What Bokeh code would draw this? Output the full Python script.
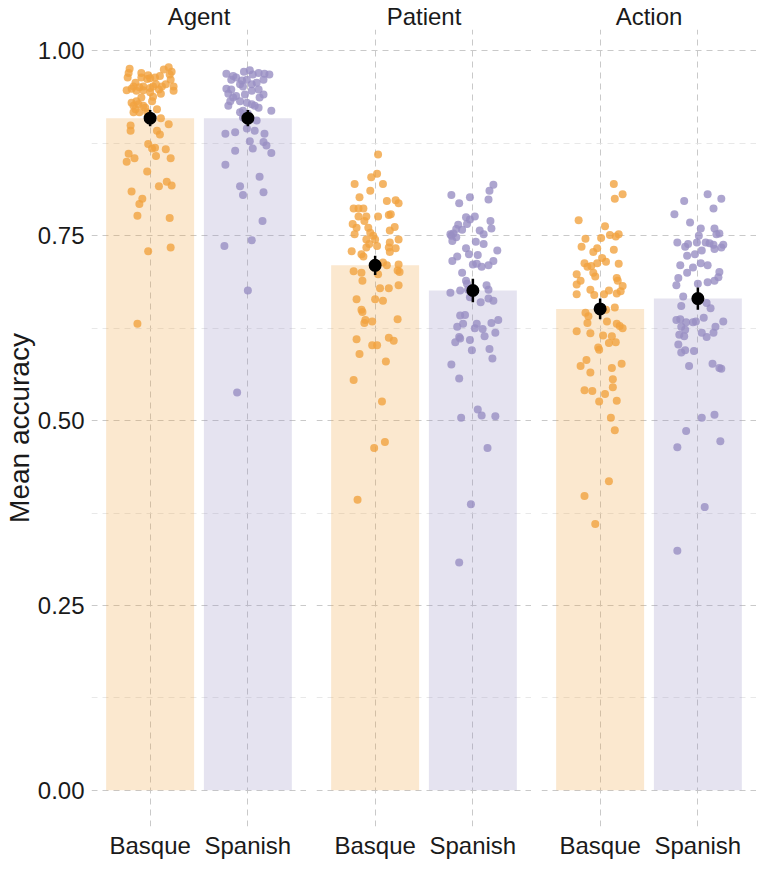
from bokeh.plotting import figure
from bokeh.layouts import row
from bokeh.models import Range1d, FixedTicker, NumeralTickFormatter
from bokeh.embed import file_html
from bokeh.resources import INLINE

conditions = ["Agent", "Patient", "Action"]
languages = ["Basque", "Spanish"]
lang_colors = ["#F1A340", "#998EC3"]

# condition means (bar heights / black dots) and standard errors
mean_basque = [0.909, 0.710, 0.651]
mean_spanish = [0.909, 0.676, 0.665]
se_basque = [0.011, 0.013, 0.014]
se_spanish = [0.011, 0.016, 0.015]

# participant accuracies and horizontal jitter (category units)
agent_basque_acc = [0.976, 0.970, 0.964, 0.970, 0.964, 0.967, 0.962, 0.963, 0.964, 0.966,
                    0.975, 0.978, 0.972, 0.968, 0.961, 0.955, 0.952, 0.957, 0.952, 0.949,
                    0.947, 0.946, 0.951, 0.952, 0.947, 0.950, 0.952, 0.955, 0.948, 0.942,
                    0.952, 0.946, 0.944, 0.938, 0.932, 0.937, 0.932, 0.930, 0.926, 0.928,
                    0.926, 0.921, 0.917, 0.917, 0.923, 0.917, 0.921, 0.909, 0.901, 0.899,
                    0.892, 0.892, 0.887, 0.874, 0.868, 0.869, 0.861, 0.855, 0.850, 0.858,
                    0.867, 0.855, 0.837, 0.823, 0.817, 0.818, 0.810, 0.800, 0.793, 0.777,
                    0.774, 0.729, 0.734, 0.631]
agent_basque_jit = [-0.21, -0.22, -0.23, -0.09, -0.09, -0.02, -0.03, 0.00, 0.05, 0.10,
                    0.14, 0.19, 0.22, 0.20, 0.21, 0.16, 0.12, -0.15, -0.17, -0.19,
                    -0.24, -0.14, -0.11, -0.07, -0.07, 0.00, 0.03, 0.06, 0.09, 0.11,
                    0.24, 0.24, 0.00, 0.03, 0.02, -0.09, -0.14, -0.19, -0.17, -0.12,
                    -0.07, -0.15, -0.17, -0.11, -0.05, -0.03, 0.07, 0.11, 0.19, -0.20,
                    -0.20, 0.07, 0.10, -0.02, 0.02, 0.05, -0.22, -0.16, -0.24, 0.06,
                    0.16, 0.21, -0.03, 0.17, 0.09, 0.22, -0.19, -0.08, -0.11, -0.13,
                    0.20, -0.02, 0.21, -0.13]

agent_spanish_acc = [0.969, 0.966, 0.961, 0.964, 0.972, 0.974, 0.968, 0.970, 0.969, 0.968,
                     0.961, 0.957, 0.961, 0.960, 0.955, 0.952, 0.955, 0.949, 0.948, 0.942,
                     0.937, 0.932, 0.926, 0.939, 0.932, 0.941, 0.946, 0.948, 0.941, 0.937,
                     0.930, 0.928, 0.926, 0.923, 0.919, 0.917, 0.919, 0.915, 0.910, 0.906,
                     0.895, 0.892, 0.888, 0.888, 0.890, 0.878, 0.877, 0.872, 0.868, 0.865,
                     0.862, 0.846, 0.830, 0.817, 0.809, 0.805, 0.770, 0.736, 0.744, 0.676,
                     0.538]
agent_spanish_jit = [-0.22, -0.15, -0.17, -0.12, -0.04, 0.02, 0.05, 0.11, 0.17, 0.22,
                     0.16, 0.09, -0.01, -0.06, -0.08, -0.05, 0.04, -0.22, -0.17, -0.20,
                     -0.15, -0.18, -0.20, -0.12, -0.08, -0.03, 0.04, 0.11, 0.16, 0.12,
                     -0.01, 0.04, 0.07, 0.11, 0.24, -0.08, -0.05, 0.00, -0.05, 0.09,
                     -0.01, 0.07, 0.17, -0.23, -0.13, 0.02, 0.16, 0.19, 0.05, -0.13,
                     0.24, -0.23, 0.12, -0.08, 0.16, -0.05, 0.15, -0.24, 0.04, 0.00,
                     -0.11]

patient_basque_acc = [0.860, 0.834, 0.829, 0.820, 0.820, 0.811, 0.802, 0.797, 0.798, 0.794,
                      0.787, 0.787, 0.787, 0.776, 0.776, 0.776, 0.778, 0.779, 0.766, 0.761,
                      0.770, 0.761, 0.762, 0.757, 0.752, 0.754, 0.750, 0.745, 0.745, 0.745,
                      0.741, 0.739, 0.736, 0.734, 0.733, 0.734, 0.729, 0.728, 0.725, 0.722,
                      0.714, 0.710, 0.711, 0.702, 0.700, 0.703, 0.701, 0.689, 0.698, 0.683,
                      0.679, 0.679, 0.664, 0.664, 0.662, 0.650, 0.647, 0.636, 0.632, 0.634,
                      0.637, 0.610, 0.602, 0.602, 0.612, 0.608, 0.590, 0.580, 0.555, 0.526,
                      0.471, 0.463, 0.393]
patient_basque_jit = [0.03, 0.02, -0.04, -0.21, 0.08, -0.05, -0.16, 0.12, 0.21, 0.24,
                      -0.22, -0.17, -0.12, -0.17, -0.09, 0.03, 0.14, 0.16, -0.23, -0.19,
                      -0.11, -0.07, 0.20, 0.15, -0.21, -0.05, -0.02, 0.00, -0.09, 0.24,
                      0.15, -0.06, 0.02, 0.14, 0.21, -0.09, -0.24, 0.15, -0.14, -0.12,
                      0.08, 0.12, 0.24, -0.22, -0.14, 0.23, 0.25, -0.13, 0.03, 0.24,
                      0.05, 0.14, -0.19, 0.00, 0.08, -0.14, -0.13, -0.10, -0.11, -0.03,
                      0.23, -0.19, -0.03, 0.02, 0.14, 0.19, -0.16, 0.11, -0.22, 0.07,
                      0.10, -0.01, -0.18]

patient_spanish_acc = [0.805, 0.794, 0.802, 0.799, 0.811, 0.819, 0.775, 0.772, 0.776, 0.766,
                       0.765, 0.759, 0.758, 0.770, 0.760, 0.752, 0.753, 0.750, 0.748, 0.743,
                       0.757, 0.752, 0.742, 0.739, 0.733, 0.725, 0.724, 0.730, 0.722, 0.716,
                       0.711, 0.712, 0.708, 0.710, 0.716, 0.700, 0.689, 0.685, 0.683, 0.673,
                       0.676, 0.677, 0.677, 0.667, 0.660, 0.665, 0.662, 0.642, 0.643, 0.631,
                       0.627, 0.631, 0.625, 0.624, 0.632, 0.636, 0.619, 0.614, 0.613, 0.611,
                       0.606, 0.609, 0.595, 0.597, 0.584, 0.576, 0.557, 0.515, 0.507, 0.504,
                       0.506, 0.463, 0.387, 0.308]
patient_spanish_jit = [-0.22, -0.14, -0.03, 0.16, 0.17, 0.21, -0.07, -0.03, 0.02, -0.06,
                       -0.15, -0.17, -0.11, 0.18, 0.19, -0.23, -0.20, -0.22, -0.17, -0.21,
                       0.07, 0.11, 0.03, 0.11, -0.07, -0.04, 0.05, 0.25, -0.16, -0.21,
                       0.00, 0.04, 0.09, 0.16, 0.21, -0.11, -0.07, -0.06, 0.14, -0.23,
                       -0.13, -0.05, 0.16, -0.03, 0.08, 0.16, 0.21, -0.13, -0.08, -0.10,
                       -0.16, 0.04, 0.02, 0.10, 0.19, 0.26, 0.23, 0.12, -0.14, -0.13,
                       -0.18, -0.03, -0.01, 0.17, 0.20, -0.22, -0.14, 0.05, 0.09, -0.12,
                       0.23, 0.15, -0.02, -0.14]

action_basque_acc = [0.820, 0.800, 0.806, 0.771, 0.763, 0.746, 0.747, 0.751, 0.749, 0.752,
                     0.735, 0.728, 0.733, 0.731, 0.720, 0.715, 0.713, 0.708, 0.709, 0.713,
                     0.712, 0.698, 0.700, 0.695, 0.689, 0.684, 0.693, 0.689, 0.682, 0.677,
                     0.670, 0.671, 0.676, 0.672, 0.675, 0.671, 0.650, 0.653, 0.646, 0.641,
                     0.632, 0.634, 0.631, 0.628, 0.625, 0.621, 0.618, 0.615, 0.614, 0.605,
                     0.606, 0.599, 0.596, 0.582, 0.574, 0.577, 0.571, 0.565, 0.556, 0.545,
                     0.541, 0.540, 0.536, 0.527, 0.526, 0.504, 0.487, 0.418, 0.398, 0.360]
action_basque_jit = [0.14, 0.15, 0.23, -0.22, 0.05, -0.15, 0.01, 0.10, 0.16, 0.19,
                     -0.19, -0.07, -0.03, 0.14, 0.02, 0.06, -0.16, -0.13, -0.09, -0.03,
                     0.19, -0.24, -0.07, -0.05, -0.20, -0.24, 0.17, 0.18, 0.23, -0.10,
                     -0.06, 0.04, 0.09, 0.17, 0.21, -0.24, 0.06, 0.15, -0.15, -0.12,
                     -0.13, 0.07, 0.17, 0.20, 0.23, -0.24, -0.10, 0.03, 0.12, 0.09,
                     0.16, -0.02, -0.01, -0.14, -0.20, 0.22, 0.12, -0.10, 0.13, 0.13,
                     -0.16, -0.08, 0.05, 0.17, -0.01, 0.11, 0.15, 0.09, -0.16, -0.05]

action_spanish_acc = [0.806, 0.800, 0.797, 0.787, 0.779, 0.768, 0.760, 0.760, 0.753, 0.752,
                      0.750, 0.741, 0.735, 0.739, 0.741, 0.741, 0.740, 0.738, 0.738, 0.734,
                      0.732, 0.730, 0.725, 0.723, 0.710, 0.707, 0.713, 0.710, 0.701, 0.700,
                      0.693, 0.694, 0.689, 0.687, 0.685, 0.683, 0.668, 0.655, 0.659, 0.652,
                      0.636, 0.637, 0.633, 0.633, 0.634, 0.639, 0.627, 0.623, 0.627, 0.634,
                      0.619, 0.619, 0.616, 0.614, 0.613, 0.603, 0.595, 0.592, 0.594, 0.574,
                      0.577, 0.571, 0.570, 0.504, 0.508, 0.486, 0.472, 0.464, 0.383, 0.324]
action_spanish_jit = [0.10, 0.24, -0.14, 0.16, -0.24, -0.08, 0.03, 0.17, 0.22, 0.19,
                      0.01, -0.21, -0.13, -0.10, -0.01, 0.08, 0.12, 0.16, 0.26, 0.24,
                      0.17, 0.04, -0.03, -0.11, -0.18, -0.05, 0.03, 0.10, 0.22, -0.11,
                      -0.20, 0.21, 0.17, 0.10, 0.00, -0.22, -0.15, -0.17, 0.09, 0.13,
                      -0.22, -0.18, -0.12, -0.05, -0.02, 0.06, -0.17, -0.13, 0.18, 0.26,
                      0.16, 0.04, -0.19, -0.14, 0.09, -0.20, -0.13, -0.17, -0.04, -0.09,
                      0.15, 0.22, 0.24, 0.04, 0.17, -0.12, 0.23, -0.21, 0.07, -0.21]

y_ticks = [0.0, 0.25, 0.50, 0.75, 1.0]
y_minor = [0.125, 0.375, 0.625, 0.875]

point_data = {
    "Agent": [(agent_basque_acc, agent_basque_jit), (agent_spanish_acc, agent_spanish_jit)],
    "Patient": [(patient_basque_acc, patient_basque_jit), (patient_spanish_acc, patient_spanish_jit)],
    "Action": [(action_basque_acc, action_basque_jit), (action_spanish_acc, action_spanish_jit)],
}

FONT = "Liberation Sans"
GRID = "#c9c9c9"
y_range = Range1d(-0.049, 1.029)
panels = []
for i, cond in enumerate(conditions):
    first = i == 0
    p = figure(frame_width=215, frame_height=797,
               x_range=Range1d(0.4, 2.6), y_range=y_range,
               output_backend="svg", toolbar_location=None,
               min_border_left=0 if first else 10, min_border_right=0,
               min_border_top=0, min_border_bottom=0, title=cond)
    p.outline_line_color = None
    p.title.align = "center"
    p.title.text_font = FONT
    p.title.text_font_size = "24px"
    p.title.text_font_style = "normal"
    p.title.text_color = "#1a1a1a"
    p.title.standoff = 0

    xt = FixedTicker(ticks=[1, 2])
    p.xaxis.ticker = xt
    p.xgrid.ticker = xt
    p.xaxis.major_label_overrides = {1: languages[0], 2: languages[1]}
    p.xaxis.axis_line_color = None
    p.xaxis.major_tick_line_color = None
    p.xaxis.minor_tick_line_color = None
    p.xaxis.major_tick_out = 0
    p.xaxis.major_tick_in = 0
    p.xaxis.minor_tick_out = 0
    p.xaxis.major_label_text_font = FONT
    p.xaxis.major_label_text_font_size = "24px"
    p.xaxis.major_label_text_color = "#1a1a1a"
    p.xaxis.major_label_standoff = 5

    yt = FixedTicker(ticks=y_ticks, minor_ticks=y_minor)
    p.yaxis.ticker = yt
    p.ygrid.ticker = yt
    p.yaxis.formatter = NumeralTickFormatter(format="0.00")
    p.yaxis.axis_line_color = None
    p.yaxis.major_tick_line_color = None
    p.yaxis.minor_tick_line_color = None
    p.yaxis.major_tick_out = 0
    p.yaxis.major_tick_in = 0
    p.yaxis.minor_tick_out = 0
    p.yaxis.major_label_text_font = FONT
    p.yaxis.major_label_text_font_size = "24px"
    p.yaxis.major_label_text_color = "#1a1a1a"
    p.yaxis.major_label_standoff = 7
    if first:
        p.yaxis.axis_label = "Mean accuracy"
        p.yaxis.axis_label_text_font = FONT
        p.yaxis.axis_label_text_font_size = "28px"
        p.yaxis.axis_label_text_font_style = "normal"
        p.yaxis.axis_label_text_color = "#1a1a1a"
        p.yaxis.axis_label_standoff = 0
    else:
        p.yaxis.visible = False

    for g in (p.xgrid, p.ygrid):
        g.grid_line_color = GRID
        g.grid_line_dash = "6 5"
        g.grid_line_width = 1
    p.ygrid.minor_grid_line_color = "#e2e2e2"
    p.ygrid.minor_grid_line_dash = "6 5"
    p.ygrid.minor_grid_line_width = 0.8

    means = [mean_basque[i], mean_spanish[i]]
    ses = [se_basque[i], se_spanish[i]]
    xs = [1, 2]
    p.vbar(x=xs, top=means, bottom=0, width=0.9, fill_color=lang_colors,
           fill_alpha=0.25, line_color=None)
    for k, (acc, jit) in enumerate(point_data[cond]):
        n = min(len(acc), len(jit))
        p.scatter(x=[xs[k] + j for j in jit[:n]], y=acc[:n], size=8,
                  fill_color=lang_colors[k], fill_alpha=0.8, line_color=None)
    p.segment(x0=xs, y0=[m - s for m, s in zip(means, ses)],
              x1=xs, y1=[m + s for m, s in zip(means, ses)],
              line_color="black", line_width=2.5)
    p.scatter(x=xs, y=means, size=13, fill_color="black", line_color=None)
    panels.append(p)

layout = row(*panels)
open("out.html", "w").write(file_html(layout, INLINE))
